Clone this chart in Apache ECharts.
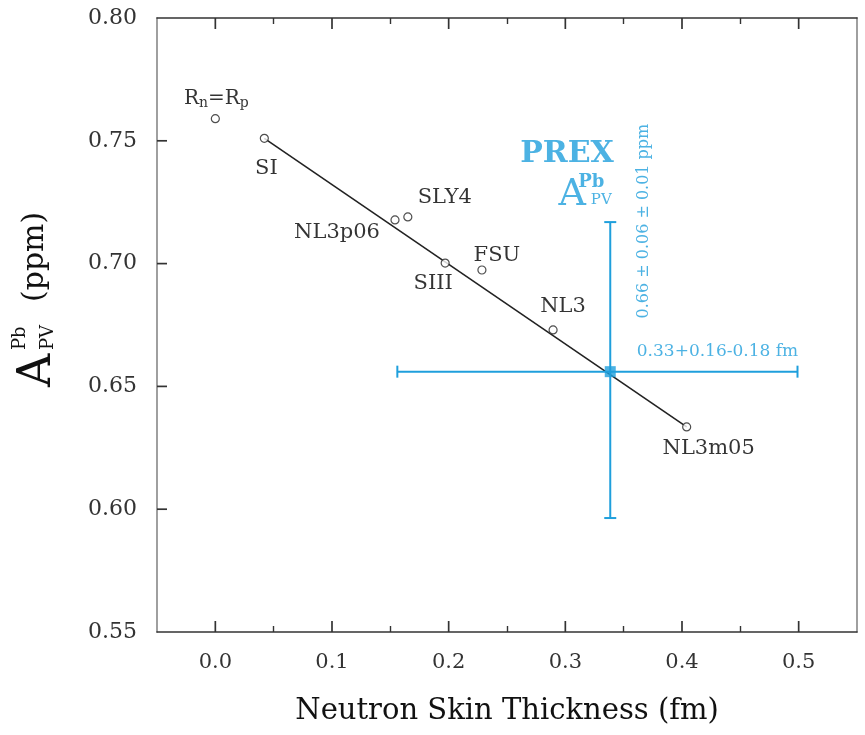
<!DOCTYPE html>
<html>
<head>
<meta charset="utf-8">
<script src="https://cdn.jsdelivr.net/npm/echarts@6/dist/echarts.min.js"></script>
<style>html,body{margin:0;padding:0;background:#fff}#c{width:865px;height:735px}</style>
</head>
<body>
<div id="c"></div>
<script>
// ---- data ----
const modelNames = ['Rn=Rp', 'SI', 'NL3p06', 'SLY4', 'SIII', 'FSU', 'NL3', 'NL3m05'];
const skinThickness = [0.0, 0.042, 0.154, 0.165, 0.197, 0.2285, 0.2895, 0.404];
const asymmetry = [0.759, 0.751, 0.7178, 0.719, 0.7002, 0.6974, 0.673, 0.6335];
const fitLineX = [0.042, 0.404];
const fitLineY = [0.751, 0.6335];
const prexX = [0.3385];
const prexY = [0.656];
const prexXLow = [0.156];
const prexXHigh = [0.499];
const prexYLow = [0.5964];
const prexYHigh = [0.7169];
const xMajorTicks = [0.0, 0.1, 0.2, 0.3, 0.4, 0.5];
const xMinorTicks = [0.05, 0.15, 0.25, 0.35, 0.45];
const yTicks = [0.60, 0.65, 0.70, 0.75];
const annotationTexts = ['PREX', 'A', 'Pb', 'PV', '0.66 ± 0.06 ± 0.01 ppm', '0.33+0.16-0.18 fm'];
const annotationX = [0.3015, 0.3058, 0.3222, 0.3308, 0.3677, 0.4304];
const annotationY = [0.7446, 0.7279, 0.7332, 0.7259, 0.7173, 0.664];
const X_MIN = -0.05, X_MAX = 0.55, Y_MIN = 0.55, Y_MAX = 0.80;

// ---- styles ----
const BLUE = '#1f9fdc';
const INK = '#000';
const FONT = '"DejaVu Serif", "Liberation Serif", serif';
const GRID = {left: 157, right: 8, top: 18, bottom: 103};
const PLOT_W = 865 - GRID.left - GRID.right;
const PLOT_H = 735 - GRID.top - GRID.bottom;
const X_TICK_LEN = 11 * (Y_MAX - Y_MIN) / PLOT_H;   // 11 px expressed in y units
const Y_TICK_LEN = 10 * (X_MAX - X_MIN) / PLOT_W;   // 10 px expressed in x units
const labelOffsets = {
  'Rn=Rp': [1, -20], 'SI': [2, 30], 'NL3p06': [-58, 13], 'SLY4': [37, -19],
  'SIII': [-12, 20], 'FSU': [15, -14], 'NL3': [10, -23], 'NL3m05': [22, 22]
};
const annotationStyles = [
  {fontSize: 30, fontWeight: 'bold', color: BLUE},
  {fontSize: 38, color: BLUE},
  {fontSize: 18, fontWeight: 'bold', color: BLUE},
  {fontSize: 15, color: BLUE},
  {fontSize: 16, color: BLUE, rotate: 90},
  {fontSize: 17, color: BLUE}
];

const modelData = modelNames.map((n, i) => {
  const item = {value: [skinThickness[i], asymmetry[i]], name: n,
    label: {show: true, position: 'inside', offset: labelOffsets[n], color: INK,
      textBorderWidth: 0, fontFamily: FONT, fontSize: 21, formatter: n}};
  if (n === 'Rn=Rp') {
    item.label.formatter = '{r|R}{s|n}{r|=R}{s|p}';
    item.label.rich = {
      r: {fontFamily: FONT, fontSize: 20, color: INK, lineHeight: 24},
      s: {fontFamily: FONT, fontSize: 14, color: INK, lineHeight: 14, verticalAlign: 'bottom'}
    };
  }
  return item;
});

const annotationData = annotationTexts.map((t, i) => {
  const st = annotationStyles[i];
  return {value: [annotationX[i], annotationY[i]],
    label: {show: true, position: 'inside', formatter: t, fontFamily: FONT,
      fontSize: st.fontSize, fontWeight: st.fontWeight || 'normal', color: st.color,
      rotate: st.rotate || 0}};
});

const errData = prexX.map((x, i) => [x, prexY[i], prexXLow[i], prexXHigh[i], prexYLow[i], prexYHigh[i]]);

const axisLineDark = {show: true, onZero: false, lineStyle: {color: '#333', width: 1.6}};
const axisLineLight = {show: true, onZero: false, lineStyle: {color: '#888', width: 1.6}};
const xBase = {type: 'value', min: X_MIN, max: X_MAX, interval: 0.05, gridIndex: 0,
  splitLine: {show: false}};
const yBase = {type: 'value', min: Y_MIN, max: Y_MAX, interval: 0.05, gridIndex: 0,
  splitLine: {show: false}};

// tick segments as short line series, drawn through the axis scales
function tickSeries(points) {
  return {type: 'line', xAxisIndex: 0, yAxisIndex: 0, data: points, symbol: 'none',
    lineStyle: {color: '#333', width: 1.7}, z: 3, silent: true, clip: false, animation: false};
}
const tickSeriesList = [];
xMajorTicks.forEach(v => {
  tickSeriesList.push(tickSeries([[v, Y_MIN], [v, Y_MIN + X_TICK_LEN]]));
  tickSeriesList.push(tickSeries([[v, Y_MAX], [v, Y_MAX - X_TICK_LEN]]));
});
yTicks.forEach(v => {
  tickSeriesList.push(tickSeries([[X_MIN, v], [X_MIN + Y_TICK_LEN, v]]));
});

const option = {
  animation: false,
  backgroundColor: '#fff',
  grid: {left: GRID.left, right: GRID.right, top: GRID.top, bottom: GRID.bottom, containLabel: false},
  xAxis: [
    Object.assign({}, xBase, {position: 'bottom',
      axisLine: axisLineDark,
      axisTick: {show: false},
      axisLabel: {show: true, customValues: xMajorTicks, margin: 20, fontFamily: FONT, fontSize: 21, color: '#333',
        formatter: v => v.toFixed(1)},
      name: 'Neutron Skin Thickness (fm)', nameLocation: 'middle', nameGap: 65,
      nameTextStyle: {fontFamily: FONT, fontSize: 29, color: '#111'}}),
    Object.assign({}, xBase, {position: 'bottom', axisLine: {show: false, onZero: false},
      axisTick: {show: true, inside: true, length: 6, customValues: xMinorTicks, lineStyle: {color: '#333', width: 1.4}},
      axisLabel: {show: false}}),
    Object.assign({}, xBase, {position: 'top', axisLine: axisLineDark,
      axisTick: {show: false}, axisLabel: {show: false}}),
    Object.assign({}, xBase, {position: 'top', axisLine: {show: false, onZero: false},
      axisTick: {show: true, inside: true, length: 6, customValues: xMinorTicks, lineStyle: {color: '#333', width: 1.4}},
      axisLabel: {show: false}})
  ],
  yAxis: [
    Object.assign({}, yBase, {position: 'left',
      axisLine: axisLineLight,
      axisTick: {show: false},
      axisLabel: {show: true, margin: 20, fontFamily: FONT, fontSize: 22, color: '#333', formatter: v => v.toFixed(2)}}),
    Object.assign({}, yBase, {position: 'right',
      axisLine: axisLineLight, axisTick: {show: false}, axisLabel: {show: false}})
  ],
  graphic: [{
    type: 'group', x: 40, y: 306, rotation: Math.PI / 2,
    children: [
      {type: 'text', x: -81, y: -2, style: {text: 'A', font: '46px "DejaVu Serif"', fill: '#111', align: 'left', verticalAlign: 'middle'}},
      {type: 'text', x: -44, y: -20, style: {text: 'Pb', font: '18px "DejaVu Serif"', fill: '#111', align: 'left', verticalAlign: 'middle'}},
      {type: 'text', x: -44, y: 8, style: {text: 'PV', font: '18px "DejaVu Serif"', fill: '#111', align: 'left', verticalAlign: 'middle'}},
      {type: 'text', x: 4, y: -5, style: {text: '(ppm)', font: '30px "DejaVu Serif"', fill: '#111', align: 'left', verticalAlign: 'middle'}}
    ]
  }],
  series: tickSeriesList.concat([
    {type: 'line', xAxisIndex: 0, yAxisIndex: 0, data: fitLineX.map((x, i) => [x, fitLineY[i]]),
      symbol: 'none', lineStyle: {color: '#222', width: 1.6}, z: 2, silent: true},
    {type: 'custom', xAxisIndex: 0, yAxisIndex: 0, data: errData, z: 3,
      renderItem: function (params, api) {
        const l = api.coord([api.value(2), api.value(1)]);
        const r = api.coord([api.value(3), api.value(1)]);
        const b = api.coord([api.value(0), api.value(4)]);
        const t = api.coord([api.value(0), api.value(5)]);
        const mk = () => ({stroke: BLUE, lineWidth: 2});
        return {type: 'group', children: [
          {type: 'line', shape: {x1: l[0], y1: l[1], x2: r[0], y2: r[1]}, style: mk()},
          {type: 'line', shape: {x1: t[0], y1: t[1], x2: b[0], y2: b[1]}, style: mk()},
          {type: 'line', shape: {x1: l[0], y1: l[1] - 6, x2: l[0], y2: l[1] + 6}, style: mk()},
          {type: 'line', shape: {x1: r[0], y1: r[1] - 6, x2: r[0], y2: r[1] + 6}, style: mk()},
          {type: 'line', shape: {x1: t[0] - 6, y1: t[1], x2: t[0] + 6, y2: t[1]}, style: mk()},
          {type: 'line', shape: {x1: b[0] - 6, y1: b[1], x2: b[0] + 6, y2: b[1]}, style: mk()}
        ]};
      }},
    {type: 'scatter', xAxisIndex: 0, yAxisIndex: 0, data: prexX.map((x, i) => [x, prexY[i]]),
      symbol: 'rect', symbolSize: 11, itemStyle: {color: BLUE}, z: 5},
    {type: 'scatter', xAxisIndex: 0, yAxisIndex: 0, data: modelData, symbol: 'circle', symbolSize: 8,
      itemStyle: {color: '#fff', borderColor: '#222', borderWidth: 1.2}, z: 4},
    {type: 'scatter', xAxisIndex: 0, yAxisIndex: 0, data: annotationData, symbolSize: 1,
      itemStyle: {color: 'rgba(0,0,0,0)'}, z: 6, silent: true}
  ])
};

const chart = echarts.init(document.getElementById('c'), null, {renderer: 'canvas'});
chart.setOption(option);
</script>
</body>
</html>
